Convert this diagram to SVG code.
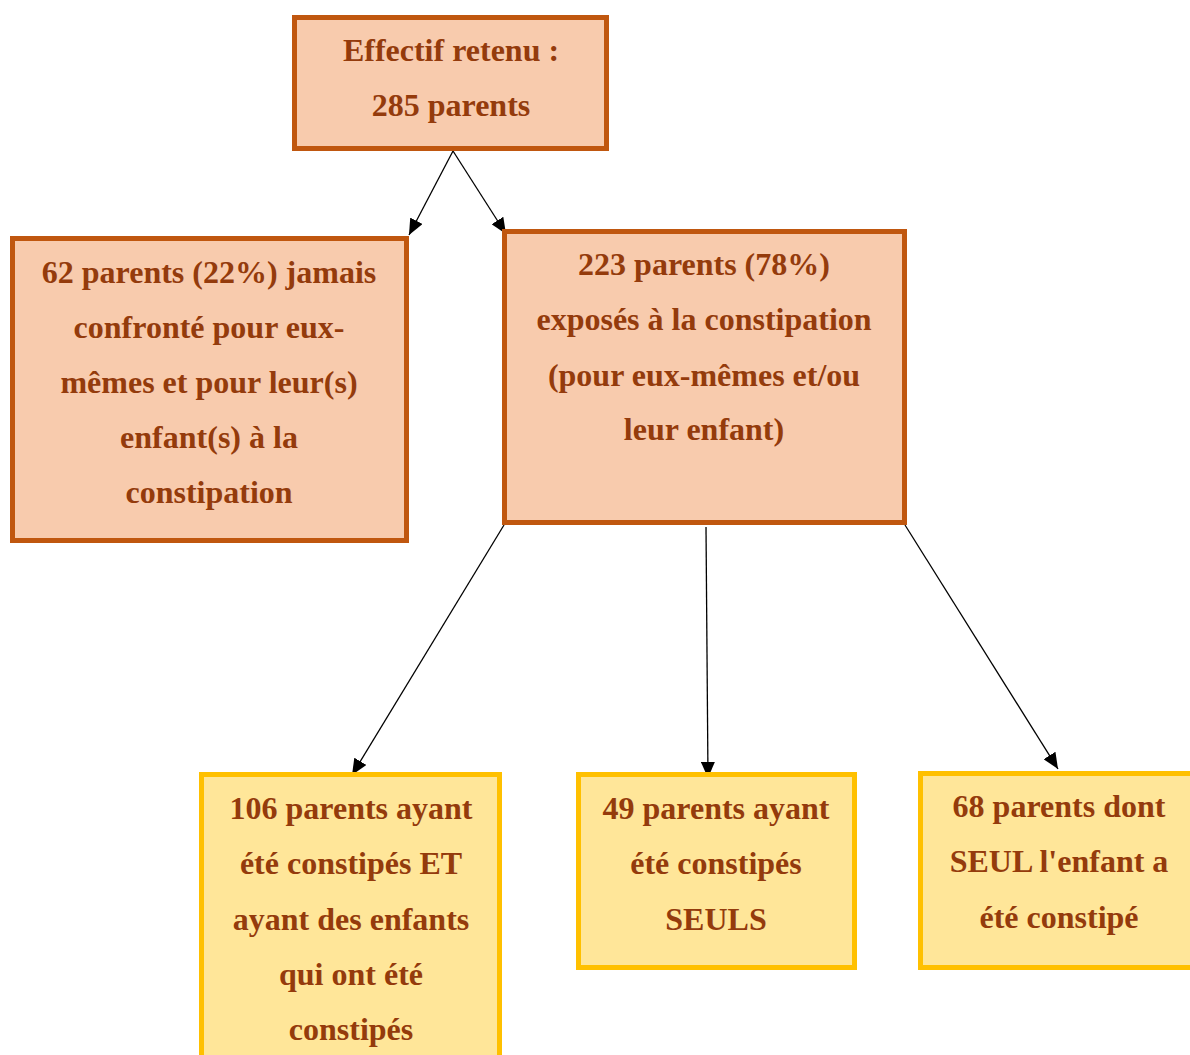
<svg xmlns="http://www.w3.org/2000/svg" width="1190" height="1055" viewBox="0 0 1190 1055">
<defs>
<style>
.o{fill:#F8CBAD;stroke:#C0570F;stroke-width:5}
.y{fill:#FFE699;stroke:#FFC000;stroke-width:5}
text{font-family:"Liberation Serif","Times New Roman",serif;font-weight:bold;font-size:32px;fill:#943B0C;text-anchor:middle}
.c line{stroke:#000;stroke-width:1.3;marker-end:url(#ah)}
</style>
<marker id="ah" markerWidth="16" markerHeight="14" refX="16" refY="7" orient="auto" markerUnits="userSpaceOnUse" viewBox="0 0 16 14">
<path d="M0,0 L16,7 L0,14 Z" fill="#000"/>
</marker>
</defs>
<rect width="1190" height="1055" fill="#fff"/>
<g class="c">
<line x1="453" y1="151" x2="409" y2="235"/>
<line x1="453" y1="151" x2="506" y2="234"/>
<line x1="504" y1="525" x2="352" y2="775"/>
<line x1="706" y1="527" x2="708" y2="778"/>
<line x1="905" y1="525" x2="1058" y2="769"/>
</g>
<g id="n1">
<rect class="o" x="294.5" y="17.5" width="312" height="131"/>
<text x="451" y="60.5">Effectif retenu :</text>
<text x="451" y="115.5">285 parents</text>
</g>
<g id="n2">
<rect class="o" x="12.5" y="238.5" width="394" height="302"/>
<text x="209" y="282.5">62 parents (22%) jamais</text>
<text x="209" y="337.5">confronté pour eux-</text>
<text x="209" y="392.5">mêmes et pour leur(s)</text>
<text x="209" y="447.5">enfant(s) à la</text>
<text x="209" y="502.5">constipation</text>
</g>
<g id="n3">
<rect class="o" x="504.5" y="231.5" width="400" height="291"/>
<text x="704" y="274.5">223 parents (78%)</text>
<text x="704" y="329.5">exposés à la constipation</text>
<text x="704" y="385.5">(pour eux-mêmes et/ou</text>
<text x="704" y="439.5">leur enfant)</text>
</g>
<g id="n4">
<rect class="y" x="201.5" y="774.5" width="298" height="290"/>
<text x="351" y="818.5">106 parents ayant</text>
<text x="351" y="873.5">été constipés ET</text>
<text x="351" y="929.5">ayant des enfants</text>
<text x="351" y="984.5">qui ont été</text>
<text x="351" y="1039.5">constipés</text>
</g>
<g id="n5">
<rect class="y" x="578.5" y="774.5" width="276" height="193"/>
<text x="716" y="818.5">49 parents ayant</text>
<text x="716" y="873.5">été constipés</text>
<text x="716" y="929.5">SEULS</text>
</g>
<g id="n6">
<rect class="y" x="920.5" y="773.5" width="275" height="194"/>
<text x="1059" y="816.5">68 parents dont</text>
<text x="1059" y="871.5">SEUL l'enfant a</text>
<text x="1059" y="927.5">été constipé</text>
</g>
</svg>
